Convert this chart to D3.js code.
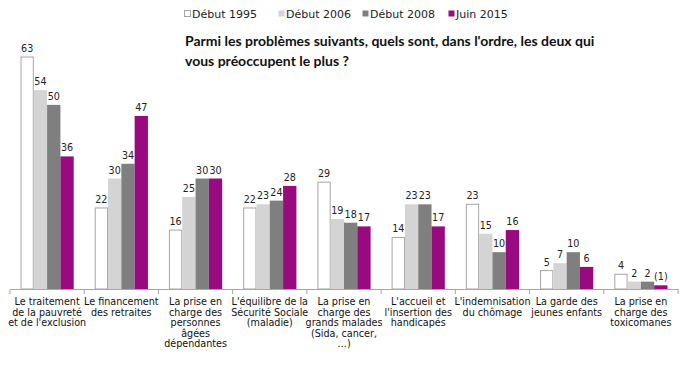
<!DOCTYPE html>
<html>
<head>
<meta charset="utf-8">
<script src="https://cdn.jsdelivr.net/npm/d3@7"></script>
<style>
  body { margin: 0; background: #fff; }
  svg { display: block; }
</style>
</head>
<body>
<script>
// data
var categories = [
  ["Le traitement", "de la pauvreté", "et de l'exclusion"],
  ["Le financement", "des retraites"],
  ["La prise en", "charge des", "personnes", "âgées", "dépendantes"],
  ["L'équilibre de la", "Sécurité Sociale", "(maladie)"],
  ["La prise en", "charge des", "grands malades", "(Sida, cancer,", "…)"],
  ["L'accueil et", "l'insertion des", "handicapés"],
  ["L'indemnisation", "du chômage"],
  ["La garde des", "jeunes enfants"],
  ["La prise en", "charge des", "toxicomanes"]
];
var seriesNames = ["Début 1995", "Début 2006", "Début 2008", "Juin 2015"];
var debut1995 = [63, 22, 16, 22, 29, 14, 23, 5, 4];
var debut2006 = [54, 30, 25, 23, 19, 23, 15, 7, 2];
var debut2008 = [50, 34, 30, 24, 18, 23, 10, 10, 2];
var juin2015  = [36, 47, 30, 28, 17, 17, 16, 6, 1];
var juin2015Labels = ["36", "47", "30", "28", "17", "17", "16", "6", "(1)"];

var colors = ["#ffffff", "#d4d4d4", "#7f7f7f", "#990a80"];

var width = 700, height = 371;
var svg = d3.select("body").append("svg")
    .attr("width", width)
    .attr("height", height);

var idx = d3.range(categories.length);
var x = d3.scaleBand().domain(idx).range([10, 678]).padding(0);
var xs = d3.scaleBand().domain(d3.range(4))
    .range([10.5, x.bandwidth() - 10.5]).padding(0);
var y = d3.scaleLinear().domain([0, 63]).range([289, 57]);

var allSeries = [debut1995, debut2006, debut2008, juin2015];

// bars + value labels
allSeries.forEach(function(vals, s) {
  var g = svg.append("g");
  g.selectAll("rect").data(vals).enter().append("rect")
    .attr("x", function(d, i) { return x(i) + xs(s) + (s == 0 ? 0.5 : 0); })
    .attr("y", function(d) { return y(d); })
    .attr("width", xs.bandwidth() - (s == 0 ? 1 : 0))
    .attr("height", function(d) { return y(0) - y(d); })
    .attr("fill", colors[s])
    .attr("stroke", s == 0 ? "#a6a6a6" : "none")
    .attr("stroke-width", 1);

  g.selectAll("text").data(vals).enter().append("text")
    .attr("x", function(d, i) { return x(i) + xs(s) + xs.bandwidth() / 2; })
    .attr("y", function(d) { return y(d) - 5; })
    .attr("text-anchor", "middle")
    .style("font-family", "DejaVu Sans")
    .style("font-size", "9.6px")
    .attr("fill", "#222")
    .text(function(d, i) { return s == 3 ? juin2015Labels[i] : d; });
});

// x axis
var axis = svg.append("g")
    .attr("transform", "translate(0," + y(0) + ")")
    .call(d3.axisBottom(x).tickSize(0).tickFormat(""));
axis.select(".domain").attr("stroke", "#a6a6a6");

svg.append("g").selectAll("line")
  .data(idx.concat([categories.length]))
  .enter().append("line")
    .attr("x1", function(d) { return d < categories.length ? x(d) : x.range()[1]; })
    .attr("x2", function(d) { return d < categories.length ? x(d) : x.range()[1]; })
    .attr("y1", y(0))
    .attr("y2", y(0) + 5)
    .attr("stroke", "#a6a6a6");

// category labels
var labels = svg.append("g").selectAll("text").data(categories).enter().append("text")
    .attr("text-anchor", "middle")
    .style("font-family", "DejaVu Sans")
    .style("font-size", "9.6px")
    .attr("fill", "#111");
labels.selectAll("tspan").data(function(d, i) { return d.map(function(l) { return {l: l, i: i}; }); })
  .enter().append("tspan")
    .attr("x", function(d) { return x(d.i) + x.bandwidth() / 2; })
    .attr("y", function(d, j) { return 305 + j * 10.6; })
    .text(function(d) { return d.l; });

// legend
var legendX = [184, 278, 362, 448];
var legend = svg.append("g").selectAll("g").data(seriesNames).enter().append("g")
    .attr("transform", function(d, i) { return "translate(" + legendX[i] + ",0)"; });
legend.append("rect")
    .attr("x", 0.5).attr("y", 10.5)
    .attr("width", 6).attr("height", 6)
    .attr("fill", function(d, i) { return colors[i]; })
    .attr("stroke", function(d, i) { return i == 0 ? "#a6a6a6" : "none"; });
legend.append("text")
    .attr("x", 8).attr("y", 18)
    .style("font-family", "DejaVu Sans")
    .style("font-size", "11px")
    .attr("fill", "#222")
    .text(function(d) { return d; });

// title
var title = svg.append("text")
    .style("font-family", "Lato")
    .style("font-weight", "bold")
    .style("font-size", "14px")
    .attr("fill", "#111");
title.append("tspan").attr("x", 185).attr("y", 46)
    .text("Parmi les problèmes suivants, quels sont, dans l'ordre, les deux qui");
title.append("tspan").attr("x", 185).attr("y", 66)
    .text("vous préoccupent le plus ?");
</script>
</body>
</html>
